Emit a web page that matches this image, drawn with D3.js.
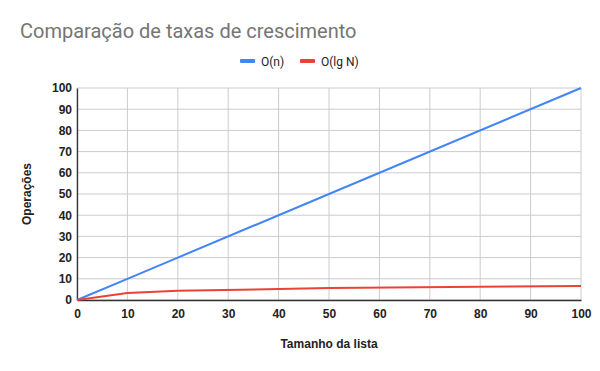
<!DOCTYPE html>
<html>
<head>
<meta charset="utf-8">
<script src="https://cdn.jsdelivr.net/npm/d3@7"></script>
<style>
  body { margin: 0; background: #fff; }
  text { font-family: "Liberation Sans", Arial, sans-serif; }
</style>
</head>
<body>
<svg width="600" height="371"></svg>
<script>
// chart values
var sizes = [0, 10, 20, 50, 100];
var linear = [0, 10, 20, 50, 100];
var logN = [0, 3.32, 4.32, 5.64, 6.64];
var seriesNames = ["O(n)", "O(lg N)"];
var seriesColors = ["#4285f4", "#ea4335"];
var ticks = [0, 10, 20, 30, 40, 50, 60, 70, 80, 90, 100];

var svg = d3.select("svg"),
  width = +svg.attr("width"),
  height = +svg.attr("height");

var margin = { left: 77, right: 19, top: 88, bottom: 71 };

var x = d3.scaleLinear().domain([0, 100]).range([margin.left, width - margin.right]);
var y = d3.scaleLinear().domain([0, 100]).range([height - margin.bottom, margin.top]);

svg.append("rect").attr("width", width).attr("height", height).attr("fill", "#fff");

// title
svg.append("text")
  .attr("x", 20)
  .attr("y", 38)
  .attr("fill", "#757575")
  .attr("font-size", 20)
  .style("font-family", "Roboto, sans-serif")
  .text("Comparação de taxas de crescimento");

// grid
svg.append("g")
  .selectAll("line.h")
  .data(ticks)
  .enter()
  .append("line")
  .attr("x1", x(0))
  .attr("x2", x(100))
  .attr("y1", (d) => y(d))
  .attr("y2", (d) => y(d))
  .attr("stroke", "#cccccc");

svg.append("g")
  .selectAll("line.v")
  .data(ticks)
  .enter()
  .append("line")
  .attr("y1", y(0))
  .attr("y2", y(100))
  .attr("x1", (d) => x(d))
  .attr("x2", (d) => x(d))
  .attr("stroke", "#cccccc");

// axes
var yAxis = svg.append("g")
  .attr("transform", "translate(" + x(0) + ",0)")
  .call(d3.axisLeft(y).tickValues(ticks).tickSize(0).tickPadding(5));
var xAxis = svg.append("g")
  .attr("transform", "translate(0," + y(0) + ")")
  .call(d3.axisBottom(x).tickValues(ticks).tickSize(0).tickPadding(9));

[xAxis, yAxis].forEach(function (g) {
  g.select(".domain").attr("stroke", "#333").attr("stroke-width", 1.3);
  g.selectAll("text")
    .attr("font-size", 12)
    .attr("font-weight", "bold")
    .attr("fill", "#222")
    .style("font-family", "Liberation Sans, Arial, sans-serif");
});

// lines
var data = [linear, logN];
var line = d3.line()
  .x((d, i) => x(sizes[i]))
  .y((d) => y(d));

data.forEach(function (vals, k) {
  svg.append("path")
    .datum(vals)
    .attr("d", line)
    .attr("fill", "none")
    .attr("stroke", seriesColors[k])
    .attr("stroke-width", 2);
});

// legend
var legendX = [240, 300];
seriesNames.forEach(function (name, k) {
  svg.append("rect")
    .attr("x", legendX[k])
    .attr("y", 59)
    .attr("width", 15)
    .attr("height", 4)
    .attr("rx", 1)
    .attr("fill", seriesColors[k]);
  svg.append("text")
    .attr("x", legendX[k] + 21)
    .attr("y", 65.5)
    .attr("font-size", 12)
    .attr("fill", "#222")
    .style("font-family", "Roboto, sans-serif")
    .text(name);
});

// axis titles
svg.append("text")
  .attr("x", (x(0) + x(100)) / 2)
  .attr("y", 348)
  .attr("text-anchor", "middle")
  .attr("font-size", 12)
  .attr("font-weight", "bold")
  .attr("fill", "#222")
  .text("Tamanho da lista");

svg.append("text")
  .attr("transform", "translate(31," + (y(50)) + ") rotate(-90)")
  .attr("text-anchor", "middle")
  .attr("font-size", 12)
  .attr("font-weight", "bold")
  .attr("fill", "#222")
  .text("Operações");
</script>
</body>
</html>
